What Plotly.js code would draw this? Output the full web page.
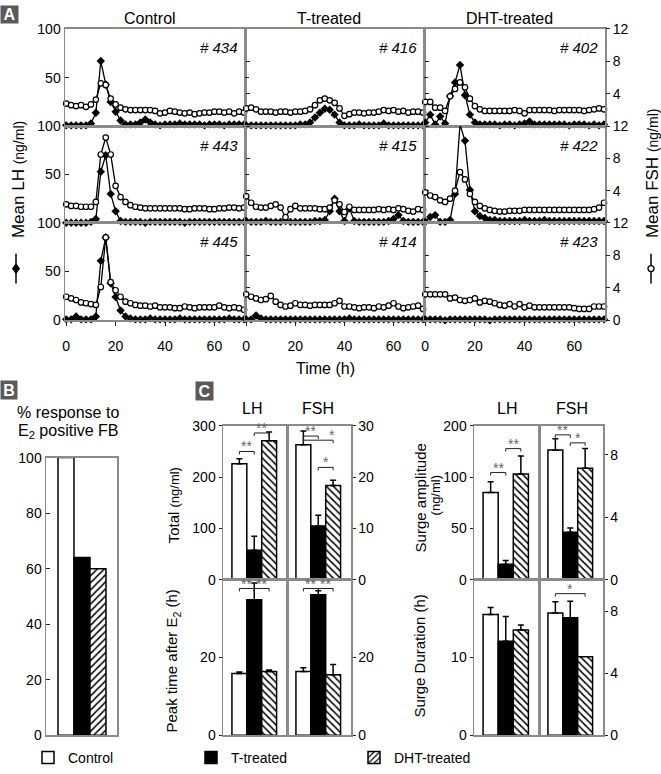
<!DOCTYPE html>
<html><head><meta charset="utf-8">
<script src="https://cdn.plot.ly/plotly-3.0.1.min.js"></script>
<style>html,body{margin:0;padding:0;background:#fff}#chart{width:661px;height:774px}</style>
</head><body><div id="chart"></div>
<script>
// ---------- DATA ----------
const hours = [0,2,4,6,8,10,12,14,16,18,20,22,24,26,28,30,32,34,36,38,40,42,44,46,48,50,52,54,56,58,60,62,64,66,68,70,72];
const columnTitles = ['Control','T-treated','DHT-treated'];
const animalIds = [['# 434','# 416','# 402'],['# 443','# 415','# 422'],['# 445','# 414','# 423']];

const lh434 = [1,1,1,1,1,3,14,67,43,25,15,6,2,2,2,4,7,4,2,1,2,2,2,3,2,2,2,2,1,2,2,2,1,2,2,2,2];
const fsh434 = [2.8,2.6,2.5,2.6,2.4,2.7,3.3,5.3,5.1,3.4,2.7,2.3,2.1,2.0,2.0,2.0,2.0,2.0,1.9,1.6,1.7,1.9,1.8,1.7,1.6,1.7,1.5,1.6,1.7,1.7,1.8,1.8,1.7,1.8,1.6,1.8,1.7];
const lh416 = [1,1,1,1,1,1,1,1,1,1,1,2,2,4,9,14,18,17,12,4,1,1,1,2,1,1,1,1,3,1,1,1,1,1,1,1,1];
const fsh416 = [2.2,2.3,2.1,1.8,1.8,1.8,1.7,1.8,1.8,1.7,1.8,1.8,1.9,2.1,2.6,3.2,3.4,3.2,2.9,2.2,1.3,1.5,1.7,1.7,1.6,1.7,1.7,1.8,2.0,1.9,2.0,1.8,1.9,1.7,1.8,1.8,1.7];
const lh402 = [4,12,2,10,3,31,45,63,32,12,4,2,2,2,2,1,2,2,1,2,3,5,2,2,2,2,2,2,2,1,2,2,2,1,2,1,2];
const fsh402 = [3.0,3.0,2.3,2.3,1.9,3.7,4.6,5.4,4.8,3.4,2.5,2.1,1.9,1.9,1.9,1.9,1.9,1.9,2.0,1.9,1.6,2.0,2.0,2.0,2.0,2.0,1.9,2.0,2.0,2.0,2.0,2.0,1.9,2.0,2.1,2.2,2.1];

const lh443 = [0,0,0,0,0,1,4,53,70,30,12,2,1,1,1,1,0,1,1,1,1,1,1,1,0,1,1,1,1,1,1,1,1,1,1,1,1];
const fsh443 = [2.3,2.1,2.1,2.0,2.0,2.0,2.6,8.5,10.6,8.5,4.6,3.2,2.6,2.2,2.0,1.9,1.8,1.8,1.8,1.8,1.8,1.8,1.8,1.8,1.7,1.7,1.8,1.8,1.8,1.7,1.7,1.8,1.8,1.9,1.9,1.8,1.9];
const lh415 = [2,1,1,1,2,1,1,1,2,1,1,1,1,1,2,2,3,12,25,12,2,15,2,1,1,1,1,1,1,2,4,8,2,1,1,1,1];
const fsh415 = [3.3,2.5,2.0,1.9,1.9,2.1,2.3,1.9,0.7,1.7,2.1,1.8,1.8,1.8,1.8,1.7,1.7,1.9,2.8,2.3,1.35,2.0,1.6,1.6,1.6,1.6,1.6,1.7,1.6,1.7,1.6,1.8,1.7,1.5,1.4,1.7,1.6];
const lh422 = [1,6,8,1,1,3,30,102,85,34,12,7,5,3,3,2,2,2,2,2,3,2,2,2,3,2,2,2,2,2,2,2,2,2,2,2,2];
const fsh422 = [3.8,3.4,3.2,2.8,2.6,3.0,4.0,6.3,5.4,3.6,2.6,2.1,1.8,1.6,1.5,1.4,1.4,1.5,1.5,1.5,1.6,1.6,1.6,1.6,1.6,1.6,1.6,1.6,1.6,1.6,1.6,1.6,1.6,1.6,1.7,1.9,2.5];

const lh445 = [1,1,4,1,1,1,4,61,85,38,24,10,4,2,1,1,1,2,1,1,1,1,1,2,1,1,1,1,1,1,1,1,1,2,1,1,1];
const fsh445 = [2.9,2.7,2.5,2.2,2.1,2.0,1.9,4.1,10.2,4.7,3.7,2.9,2.3,2.1,1.9,1.8,1.8,1.7,1.8,1.6,1.6,1.6,1.5,1.5,1.7,1.6,1.5,1.6,1.6,1.6,1.6,1.8,1.6,1.5,1.6,1.5,1.3];
const lh414 = [1,1,5,2,1,1,1,1,1,1,1,1,1,1,1,1,1,1,1,1,1,2,1,1,1,1,1,1,1,1,1,1,1,1,1,1,1];
const fsh414 = [3.2,2.9,2.7,2.5,2.6,3.0,2.3,1.9,1.7,1.8,2.1,1.9,1.9,1.8,1.9,1.9,1.9,1.9,2.1,2.4,1.7,1.7,1.6,1.5,1.6,1.6,1.5,1.7,1.6,1.8,2.1,1.7,1.5,1.6,1.7,1.8,1.4];
const lh423 = [1,1,1,1,0,1,1,1,1,1,1,1,1,0,1,1,1,1,1,1,1,1,1,1,1,1,1,1,1,1,1,1,1,1,1,1,1];
const fsh423 = [3.2,3.2,3.2,3.2,3.2,2.7,2.8,2.5,2.4,2.5,2.7,2.2,2.4,2.3,2.1,1.9,1.8,2.0,1.7,2.0,1.6,1.8,1.6,1.6,1.6,1.6,1.6,1.6,1.6,1.6,1.5,1.4,1.4,1.4,1.7,1.7,1.7];

const groups = ['Control','T-treated','DHT-treated'];
const responsePct = [100, 64, 60];

const totalLH = [226, 58, 271];      const totalLHerr = [10, 27, 17];
const totalFSH = [26.3, 10.5, 18.4]; const totalFSHerr = [2.7, 2.1, 1.0];
const peakLH = [15.9, 34.9, 16.4];   const peakLHerr = [0.4, 4.3, 0.4];
const peakFSH = [16.4, 36.2, 15.6];  const peakFSHerr = [1.0, 1.0, 2.6];
const ampLH = [85, 15.2, 103];       const ampLHerr = [10.5, 3.8, 17.7];
const ampFSH = [8.3, 3.05, 7.13];    const ampFSHerr = [0.73, 0.27, 1.27];
const durLH = [15.55, 12.1, 13.55];  const durLHerr = [0.9, 3.2, 0.65];
const durFSH = [7.88, 7.56, 5.06];   const durFSHerr = [0.71, 1.07, 0];

// significance brackets: [from, to, level, label, labelX]
const sigTotalLH = [[0,1,250,'**',0.5],[1,2,286,'**',1.5]];
const sigTotalFSH = [[0,1,28.0,'**',0.5],[0,2,27.2,'*',1.95],[1,2,21.9,'*',1.5]];
const sigPeakLH = [[0,1,37.8,'**',0.5],[1,2,37.8,'**',1.5]];
const sigPeakFSH = [[0,1,37.8,'**',0.5],[1,2,37.8,'**',1.5]];
const sigAmpLH = [[0,1,104.5,'**',0.5],[1,2,127.8,'**',1.5]];
const sigAmpFSH = [[0,1,9.27,'**',0.5],[1,2,8.76,'*',1.5]];
const sigDurLH = [];
const sigDurFSH = [[0,2,9.12,'*',1.0]];

// ---------- LAYOUT HELPERS ----------
const W = 661, H = 774;
const fx = p => p / W;
const fy = p => 1 - p / H;
const FONT = 'Liberation Sans, Arial, Helvetica, sans-serif';
const FRAME = '#8a8a8a';
let nx = 0, ny = 0;
const xName = n => n === 1 ? 'x' : 'x' + n;
const yName = n => n === 1 ? 'y' : 'y' + n;
const xKey = n => n === 1 ? 'xaxis' : 'xaxis' + n;
const yKey = n => n === 1 ? 'yaxis' : 'yaxis' + n;

const layout = {
  width: W, height: H, autosize: false,
  margin: {l:0, r:0, t:0, b:0, pad:0},
  paper_bgcolor: '#fff', plot_bgcolor: 'rgba(0,0,0,0)',
  font: {family: FONT, size: 14, color: '#000'},
  barmode: 'overlay',
  showlegend: true,
  legend: {orientation:'h', x: fx(28), xanchor:'left', y: fy(762), yanchor:'middle',
           entrywidth: 118, entrywidthmode:'pixels', font:{size:14, family:FONT},
           bgcolor:'rgba(0,0,0,0)', traceorder:'normal', itemclick:false, itemdoubleclick:false},
  annotations: [], shapes: []
};
const data = [];

function frameAxis(extra) {
  return Object.assign({showline:true, linecolor:FRAME, linewidth:1.5, mirror:true,
    showgrid:false, zeroline:false, tickcolor:'#222', tickwidth:1, ticklen:4,
    tickfont:{size:14, color:'#000', family:FONT}, fixedrange:true}, extra);
}
function txt(text, x, y, opts) {
  layout.annotations.push(Object.assign({text, x: fx(x), y: fy(y), xref:'paper', yref:'paper',
    showarrow:false, xanchor:'center', yanchor:'middle', font:{size:16, family:FONT, color:'#000'}}, opts || {}));
}
function panelLabel(letter, x, y, w, h) {
  layout.annotations.push({text:'<b>'+letter+'</b>', x: fx(x), y: fy(y), xref:'paper', yref:'paper',
    xanchor:'left', yanchor:'top', showarrow:false, bgcolor:'#5a5a5a', width:w, height:h, borderpad:0,
    font:{size:16, color:'#fff', family:FONT}});
}

// ---------- PANEL A ----------
const colX = [[65,245],[245,424],[424,605]];
const rowY = [[29,127],[127,224],[224,322]];
const lhSeries = [[lh434,lh416,lh402],[lh443,lh415,lh422],[lh445,lh414,lh423]];
const fshSeries = [[fsh434,fsh416,fsh402],[fsh443,fsh415,fsh422],[fsh445,fsh414,fsh423]];

for (let r = 0; r < 3; r++) {
  for (let c = 0; c < 3; c++) {
    const xi = ++nx, yl = ++ny, yf = ++ny;
    const bottom = r === 2;
    layout[xKey(xi)] = frameAxis({domain:[fx(colX[c][0]), fx(colX[c][1])], anchor:yName(yl),
      range:[-0.5, 72.4], tickmode:'array', tickvals: bottom ? [0,20,40,60] : [],
      ticks: bottom ? 'outside' : '', showticklabels: bottom, ticklabelstandoff: 8});
    layout[yKey(yl)] = frameAxis({domain:[fy(rowY[r][1]), fy(rowY[r][0])], anchor:xName(xi),
      range:[0,100], tickmode:'array', tickvals: bottom ? [0,50,100] : [50,100],
      ticks:'inside', showticklabels: c === 0});
    layout[yKey(yf)] = {overlaying: yName(yl), side:'right', anchor: xName(xi), range:[0,12],
      tickmode:'array', tickvals: bottom ? [0,4,8,12] : [4,8,12], ticks:'outside', ticklen:4,
      tickcolor:'#222', showticklabels: c === 2, showline:false, showgrid:false, zeroline:false,
      tickfont:{size:14, color:'#000', family:FONT}, fixedrange:true};
    data.push({type:'scatter', mode:'lines+markers', x:hours, y:lhSeries[r][c],
      xaxis:xName(xi), yaxis:yName(yl), cliponaxis:false, showlegend:false, hoverinfo:'skip',
      line:{color:'#000', width:1.3}, marker:{symbol:'diamond', size:6.5, color:'#000'}});
    data.push({type:'scatter', mode:'lines+markers', x:hours, y:fshSeries[r][c],
      xaxis:xName(xi), yaxis:yName(yf), cliponaxis:false, showlegend:false, hoverinfo:'skip',
      line:{color:'#000', width:1.3}, marker:{symbol:'circle', size:5.5, color:'#fff', line:{color:'#000', width:1.2}}});
    txt('<i>'+animalIds[r][c]+'</i>', colX[c][1]-5, rowY[r][0]+19, {xanchor:'right', font:{size:15, family:FONT}});
  }
}
const titleX = [150, 329, 509];
columnTitles.forEach((t, i) => txt(t, titleX[i], 19));
txt('Time (h)', 325, 370);
txt('Mean LH <span style="font-size:14px">(ng/ml)</span>', 18, 181, {textangle:-90, font:{size:17, family:FONT}});
txt('Mean FSH <span style="font-size:14px">(ng/ml)</span>', 652, 174, {textangle:-90, font:{size:17, family:FONT}});
// symbol keys next to the axis titles
layout.shapes.push({type:'line', xref:'paper', yref:'paper', x0:fx(16), x1:fx(16), y0:fy(255), y1:fy(285), line:{color:'#000', width:1.5}});
layout.shapes.push({type:'path', xref:'paper', yref:'paper', fillcolor:'#000', line:{color:'#000', width:1},
  path:`M ${fx(16)},${fy(265)} L ${fx(19.5)},${fy(270)} L ${fx(16)},${fy(275)} L ${fx(12.5)},${fy(270)} Z`});
layout.shapes.push({type:'line', xref:'paper', yref:'paper', x0:fx(651), x1:fx(651), y0:fy(255), y1:fy(285), line:{color:'#000', width:1.5}});
layout.shapes.push({type:'circle', xref:'paper', yref:'paper', x0:fx(648), x1:fx(654), y0:fy(273), y1:fy(267), fillcolor:'#fff', line:{color:'#000', width:1.3}});
panelLabel('A', 0, 5, 17, 17);

// ---------- PANEL B ----------
const barFills = ['#fff','#000','#fff'];
{
  const xi = ++nx, yi = ++ny;
  layout[xKey(xi)] = frameAxis({domain:[fx(46), fx(117)], anchor:yName(yi), range:[-1.25, 3.19],
    tickvals:[], ticks:'', showticklabels:false});
  layout[yKey(yi)] = frameAxis({domain:[fy(739), fy(460)], anchor:xName(xi), range:[0,100],
    tickmode:'array', tickvals:[0,20,40,60,80,100], ticks:'inside'});
  const pats = ['','','/'];
  groups.forEach((g, i) => {
    data.push({type:'bar', x:[i], y:[responsePct[i]], width:1, name:g, xaxis:xName(xi), yaxis:yName(yi),
      hoverinfo:'skip', showlegend:true,
      marker:{color:barFills[i], line:{color:'#000', width:1.5},
        pattern:{shape:pats[i], fgcolor:'#000', bgcolor:'#fff', size:5, solidity:0.3, fillmode:'replace'}}});
  });
  txt('% response to', 68, 415);
  txt('E<sub>2</sub> positive FB', 68, 434);
  panelLabel('B', 0, 382, 16, 18);
}

// ---------- PANEL C ----------
const cBoxes = [
  {vals: totalLH, errs: totalLHerr, sig: sigTotalLH, xr:[223,287], yr:[428,583], range:[0,300], tv:[0,100,200,300], side:'left'},
  {vals: totalFSH, errs: totalFSHerr, sig: sigTotalFSH, xr:[287,351], yr:[428,583], range:[0,30], tv:[0,10,20,30], side:'right'},
  {vals: peakLH, errs: peakLHerr, sig: sigPeakLH, xr:[223,287], yr:[583,739], range:[0,40], tv:[0,20], side:'left'},
  {vals: peakFSH, errs: peakFSHerr, sig: sigPeakFSH, xr:[287,351], yr:[583,739], range:[0,40], tv:[0,20], side:'right'},
  {vals: ampLH, errs: ampLHerr, sig: sigAmpLH, xr:[474,539], yr:[428,583], range:[0,150], tv:[0,50,100,150], tt:['0','50','100','200'], side:'left'},
  {vals: ampFSH, errs: ampFSHerr, sig: sigAmpFSH, xr:[539,603], yr:[428,583], range:[0,9.85], tv:[0,4,8], side:'right'},
  {vals: durLH, errs: durLHerr, sig: sigDurLH, xr:[474,539], yr:[583,739], range:[0,20], tv:[0,10], side:'left'},
  {vals: durFSH, errs: durFSHerr, sig: sigDurFSH, xr:[539,603], yr:[583,739], range:[0,10], tv:[0,4,8], side:'right'}
];
const cPats = ['','','\\'];
cBoxes.forEach(b => {
  const xi = ++nx, yi = ++ny;
  layout[xKey(xi)] = frameAxis({domain:[fx(b.xr[0]), fx(b.xr[1])], anchor:yName(yi), range:[-1.1, 3.2],
    tickvals:[], ticks:'', showticklabels:false});
  const ya = frameAxis({domain:[fy(b.yr[1]), fy(b.yr[0])], anchor:xName(xi), range:b.range, side:b.side,
    tickmode:'array', tickvals:b.tv, ticks:'outside', ticklen:3});
  if (b.tt) ya.ticktext = b.tt;
  layout[yKey(yi)] = ya;
  groups.forEach((g, i) => {
    const bar = {type:'bar', x:[i], y:[b.vals[i]], width:1, name:g, xaxis:xName(xi), yaxis:yName(yi),
      showlegend:false, hoverinfo:'skip',
      marker:{color:barFills[i], line:{color:'#000', width:1.5}},
      error_y:{type:'data', array:[b.errs[i]], arrayminus:[0], symmetric:false, color:'#000', thickness:1.5, width:3, visible: b.errs[i] > 0}};
    if (cPats[i]) bar.marker.pattern = {shape:cPats[i], fgcolor:'#000', bgcolor:'#fff', size:5, solidity:0.3, fillmode:'replace'};
    data.push(bar);
  });
  const hpx = b.yr[1] - b.yr[0];
  const d = (b.range[1] - b.range[0]) * 3 / hpx;
  b.sig.forEach(s => {
    const [i, j, lv, lab, lx] = s;
    layout.shapes.push({type:'path', xref:xName(xi), yref:yName(yi), line:{color:'#222', width:1},
      path:`M ${i},${lv-d} L ${i},${lv} L ${j},${lv} L ${j},${lv-d}`});
    layout.annotations.push({text:lab, x:lx, y:lv, xref:xName(xi), yref:yName(yi), showarrow:false,
      xanchor:'center', yanchor:'bottom', yshift:-5, font:{size:14, color:'#666', family:FONT}});
  });
});
txt('LH', 252, 411); txt('FSH', 318, 411);
txt('LH', 507, 411); txt('FSH', 572, 411);
txt('Total <span style="font-size:13px">(ng/ml)</span>', 173, 508, {textangle:-90, font:{size:15, family:FONT}});
txt('Peak time after E<sub>2</sub> (h)', 173, 665, {textangle:-90, font:{size:15, family:FONT}});
txt('Surge amplitude', 420, 501, {textangle:-90, font:{size:15, family:FONT}});
txt('(ng/ml)', 435, 498, {textangle:-90, font:{size:13, family:FONT}});
txt('Surge Duration (h)', 420, 660, {textangle:-90, font:{size:15, family:FONT}});
panelLabel('C', 195, 383, 17, 18);

Plotly.newPlot('chart', data, layout, {staticPlot:true, displayModeBar:false});
</script>
</body></html>
